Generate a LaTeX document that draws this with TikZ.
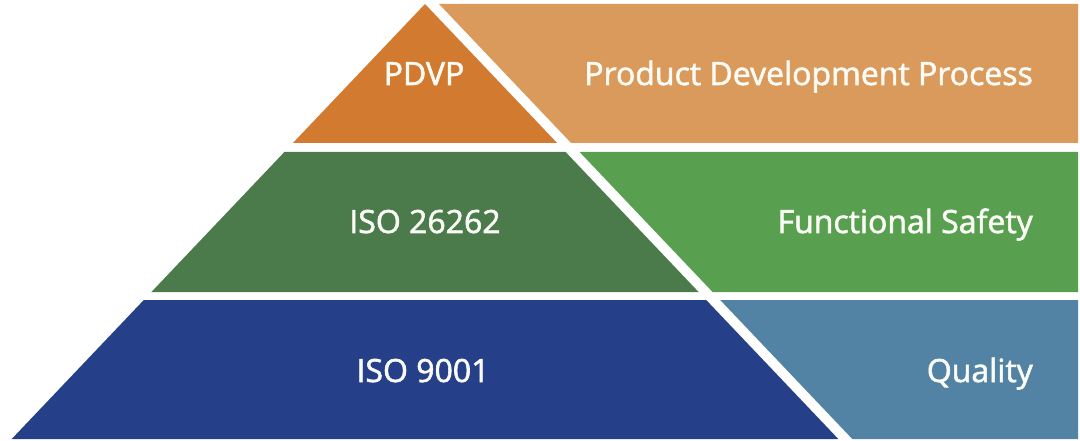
\documentclass[tikz,border=0pt]{standalone}
\usepackage{fontspec}
\setmainfont{Open Sans}
\newfontface\lblfont{Open Sans}[FakeBold=1.8]
\definecolor{oranged}{HTML}{D27B30}
\definecolor{orangel}{HTML}{DA9A5B}
\definecolor{greend}{HTML}{4B7A4B}
\definecolor{greenl}{HTML}{58A050}
\definecolor{blued}{HTML}{253F88}
\definecolor{bluel}{HTML}{5383A4}
\definecolor{txt}{HTML}{FBFBF6}
\tikzset{
  lbl/.style={text=txt, font=\lblfont\fontsize{32}{35}\selectfont, inner sep=0pt},
}
\begin{document}
\begin{tikzpicture}[x=1pt,y=-1pt]
\useasboundingbox (0,0) rectangle (1080,441);
% pyramid (left)
\fill[oranged] (425,4) -- (557.1,143) -- (292.9,143) -- cycle;
\fill[greend] (284.4,152) -- (565.6,152) -- (698.6,292) -- (151.4,292) -- cycle;
\fill[blued] (143.8,300) -- (706.2,300) -- (838.3,439) -- (11.7,439) -- cycle;
% bars (right)
\fill[orangel] (439,4) -- (1078,4) -- (1078,143) -- (571.1,143) -- cycle;
\fill[greenl] (579.6,152) -- (1078,152) -- (1078,292) -- (712.6,292) -- cycle;
\fill[bluel] (720.2,300) -- (1078,300) -- (1078,439) -- (852.3,439) -- cycle;
% labels
\node[lbl, anchor=base] (pdvp) at (424,85) {PDVP};
\node[lbl, anchor=base] (iso26) at (425,233) {ISO 26262};
\node[lbl, anchor=base] (iso9) at (423,382) {ISO 9001};
\node[lbl, anchor=base east] (pdp) at (1033,85) {Product Development Process};
\node[lbl, anchor=base east] (fs) at (1033,233) {Functional Safety};
\node[lbl, anchor=base east] (q) at (1033,382) {Quality};
\end{tikzpicture}
\end{document}
